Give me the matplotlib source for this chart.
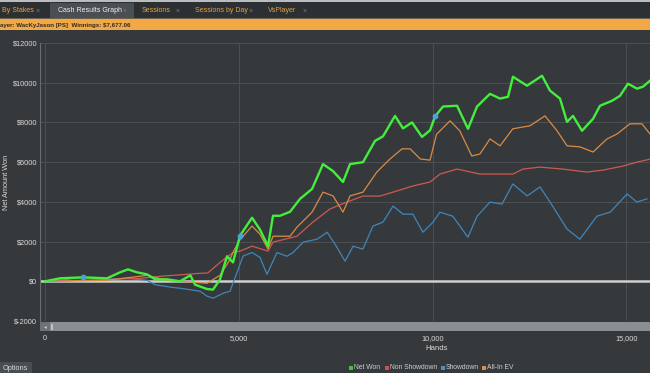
import matplotlib
matplotlib.use('Agg')
import matplotlib.pyplot as plt
from matplotlib.patches import Rectangle

plt.rcParams['font.family'] = ['Liberation Sans', 'DejaVu Sans']

# --- data (hands, $) ---
net_won_hands = [0, 387, 980, 1600, 1935, 2140, 2374, 2632, 2838, 3148, 3483, 3750, 3870, 4180, 4334,
                 4515, 4696, 4850, 5031, 5341, 5547, 5753, 5882, 6063, 6321, 6579, 6889, 7172, 7430,
                 7688, 7869, 8204, 8514, 8720, 9030, 9236, 9469, 9727, 9933, 10062, 10268, 10630,
                 10913, 11146, 11481, 11739, 11945, 12074, 12436, 12823, 13029, 13287, 13468, 13622,
                 13855, 14138, 14319, 14629, 14835, 15041, 15274, 15428, 15609]
net_won = [0, 150, 200, 150, 450, 600, 450, 350, 100, 100, 0, 300, -170, -390, -420,
           100, 1260, 950, 2300, 3200, 2600, 1770, 3300, 3300, 3500, 4150, 4650, 5900, 5550,
           5000, 5900, 6000, 7070, 7300, 8330, 7700, 8000, 7270, 7600, 8300, 8800, 8840,
           7680, 8800, 9440, 9200, 9290, 10300, 9850, 10350, 9600, 9200, 8030, 8330,
           7580, 8180, 8840, 9090, 9340, 9950, 9700, 9800, 10100]

allin_hands = [0, 1600, 2632, 3148, 3483, 4180, 4515, 4773, 4850, 5031, 5341, 5547, 5753, 5882,
               6321, 6502, 6889, 7172, 7430, 7688, 7869, 8204, 8560, 8900, 9210, 9420, 9680,
               9933, 10100, 10450, 10700, 11010, 11220, 11480, 11740, 12070, 12510, 12900,
               13210, 13470, 13800, 14140, 14500, 14760, 15090, 15400, 15609]
allin_ev = [0, 50, 300, 50, 0, -100, 300, 1100, 1460, 2100, 2780, 2370, 1620, 2270,
            2270, 2730, 3480, 4490, 4300, 3480, 4300, 4490, 5500, 6160, 6670, 6670, 6160,
            6100, 7400, 8080, 7580, 6310, 6410, 7170, 6820, 7680, 7830, 8330,
            7580, 6820, 6770, 6510, 7170, 7420, 7930, 7930, 7420]

non_sd_hands = [0, 1420, 2450, 2970, 4000, 4200, 4515, 4850, 5031, 5341, 5753, 5882, 6500, 6910,
                7350, 7790, 8200, 8640, 9080, 9490, 9933, 10190, 10630, 11220, 12070, 12330,
                12770, 13360, 13980, 14400, 14910, 15270, 15609]
non_showdown = [0, 80, 150, 250, 400, 420, 950, 1450, 1520, 1770, 1520, 1970, 2270, 2980,
                3640, 3990, 4290, 4290, 4550, 4800, 5000, 5400, 5650, 5400, 5400, 5650,
                5750, 5650, 5500, 5600, 5800, 6000, 6150]

sd_hands = [0, 500, 980, 1600, 2100, 2632, 2838, 3250, 3483, 4000, 4180, 4334, 4600, 4773,
            4950, 5110, 5341, 5547, 5727, 5985, 6240, 6400, 6660, 7020, 7280, 7530, 7740,
            7950, 8200, 8460, 8720, 8980, 9236, 9490, 9750, 10010, 10190, 10520, 10910,
            11150, 11480, 11790, 12070, 12440, 12770, 13030, 13470, 13800, 14240, 14580,
            15020, 15270, 15530]
showdown = [0, 80, 200, 100, 150, 50, -170, -300, -350, -500, -750, -850, -600, -500,
            430, 1270, 1450, 1200, 350, 1450, 1260, 1450, 1970, 2120, 2470, 1720, 1010,
            1770, 1620, 2780, 2980, 3790, 3380, 3380, 2470, 2980, 3480, 3280, 2220,
            3280, 3990, 3890, 4900, 4300, 4750, 3990, 2630, 2120, 3280, 3480,
            4400, 3990, 4150]

marker_hands = [980, 5031, 10062]
marker_vals = [200, 2300, 8300]

yticks = [-2000, 0, 2000, 4000, 6000, 8000, 10000, 12000]
xticks = [0, 5000, 10000, 15000]
tabs = [("By Stakes", 2, 38), ("Cash Results Graph", 58, 125), ("Sessions", 142, 178),
        ("Sessions by Day", 195, 251), ("VsPlayer", 268, 305)]

W, H = 650, 373
BG = '#36393c'
TXT = '#d8d8d8'

def fx(x):
    return x / W

def fy(y):
    return 1 - y / H

fig = plt.figure(figsize=(6.5, 3.73), dpi=100)
fig.patch.set_facecolor(BG)

def rect(x0, y0, x1, y1, color, z=0):
    fig.add_artist(Rectangle((fx(x0), fy(y1)), fx(x1) - fx(x0), fy(y0) - fy(y1),
                             transform=fig.transFigure, color=color, zorder=z, lw=0))

# tab strip + orange player bar
rect(0, 0, W, 2, '#b9bdbf')
rect(0, 2, W, 18, '#2c3032')
rect(50, 3, 134, 18, '#4a4f52')
rect(0, 18, W, 19.5, '#6d6250')
rect(0, 19.5, W, 30, '#f2a945')
for name, x0, xx in tabs:
    col = '#f0f0f0' if name == "Cash Results Graph" else '#e6a23c'
    fig.text(fx(x0), fy(11), name, color=col, fontsize=5.0, va='center', ha='left')
    fig.text(fx(xx), fy(11), '×', color='#7a7f82', fontsize=5, va='center', ha='center')
fig.text(fx(0), fy(25), 'ayer: WacKyJason [PS]  Winnings: $7,677.06', color='#2a2a2a',
         fontsize=4.4, fontweight='bold', va='center', ha='left')

# main axes
ax = fig.add_axes([fx(40), fy(321), fx(W) - fx(40), fy(43) - fy(321)])
ax.set_facecolor(BG)
ax.set_xlim(-130, 15609)
ax.set_ylim(-2000, 12000)
for s in ax.spines.values():
    s.set_visible(False)
ax.spines['left'].set_visible(True)
ax.spines['left'].set_color('#6a6e71')
ax.spines['left'].set_linewidth(0.8)
ax.set_yticks(yticks)
ax.set_yticklabels(['$' + str(v) for v in yticks])
ax.set_xticks(xticks)
ax.set_xticklabels(['0', '5,000', '10,000', '15,000'])
ax.tick_params(colors=TXT, labelsize=5.3, length=0, pad=2)
ax.tick_params(axis='x', pad=10)
ax.grid(True, color='#4c5054', lw=0.7)
ax.set_axisbelow(True)
fig.text(fx(7), fy(182), 'Net Amount Won', color=TXT, fontsize=5.3, rotation=90,
         ha='center', va='center')

ax.axhline(0, color='#cfcfcf', lw=1.8, zorder=1)
ax.plot(sd_hands, showdown, color='#3f86bb', lw=0.9, zorder=2)
ax.plot(non_sd_hands, non_showdown, color='#cc5a50', lw=0.9, zorder=3)
ax.plot(allin_hands, allin_ev, color='#d98b45', lw=0.9, zorder=4)
ax.plot(net_won_hands, net_won, color='#44ee3c', lw=1.7, zorder=5)
ax.scatter(marker_hands, marker_vals, s=10, color='#4aa3d8', zorder=6)

# scrollbar
rect(40, 322, W, 331, '#8b8e90', 3)
rect(40, 322, 50, 331, '#6f7274', 3)
fig.text(fx(45), fy(326.5), '◂', color='#c8c8c8', fontsize=4, va='center', ha='center',
         zorder=4, family='DejaVu Sans')
rect(51, 323.5, 53, 329.5, '#c0c3c4', 4)

fig.text(fx(437), fy(348), 'Hands', color=TXT, fontsize=5.6, ha='center', va='center')

# legend
legend_items = [('Net Won', '#3ec43e'), ('Non Showdown', '#d0505a'),
                ('Showdown', '#4a90c0'), ('All-In EV', '#e09040')]
lx = [349, 385, 441, 482]
for (lab, c), x in zip(legend_items, lx):
    fig.add_artist(Rectangle((fx(x), fy(369.5)), fx(4), fy(0) - fy(4),
                             transform=fig.transFigure, color=c, lw=0))
    fig.text(fx(x + 5), fy(367.5), lab, color='#cfcfcf', fontsize=4.9, ha='left', va='center')

# options button
rect(0, 362, 32, 373, '#4a4e51')
fig.text(fx(3), fy(368), 'Options', color=TXT, fontsize=5.3, ha='left', va='center')

fig.savefig('out.png', dpi=100, facecolor=fig.get_facecolor())
